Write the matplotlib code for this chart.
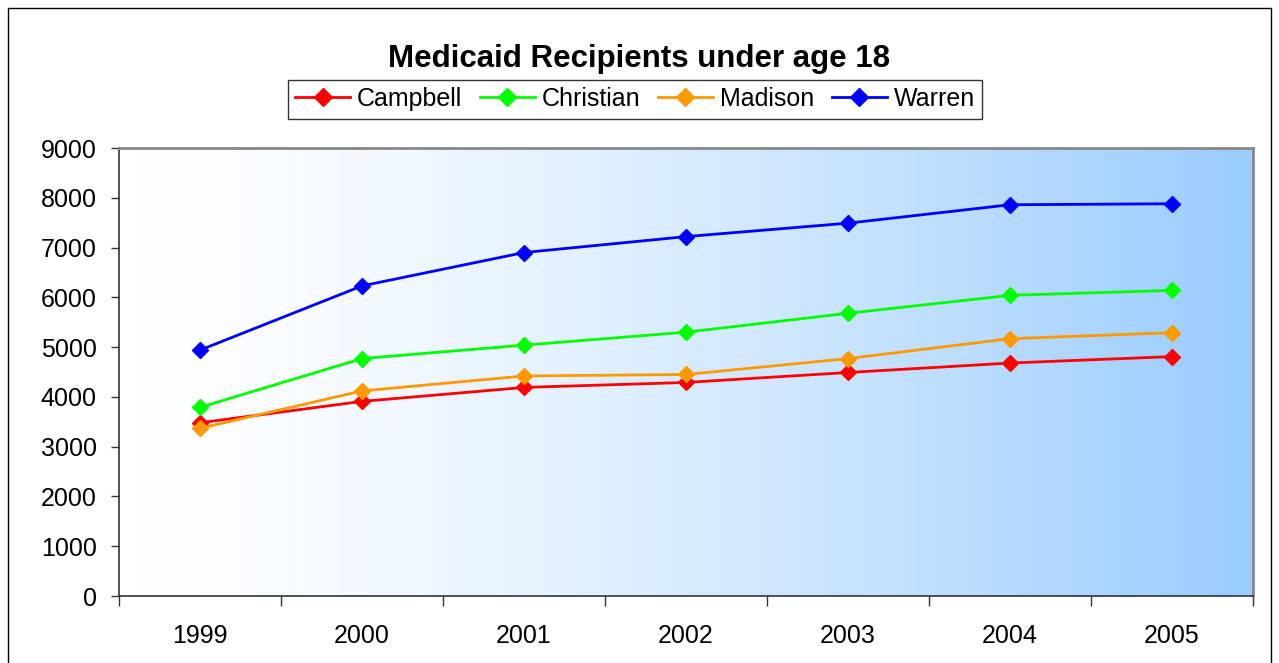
import numpy as np
import matplotlib.pyplot as plt
from matplotlib.colors import LinearSegmentedColormap
from matplotlib.patches import Rectangle

plt.rcParams['font.family'] = ['Liberation Sans', 'DejaVu Sans']

years = ['1999', '2000', '2001', '2002', '2003', '2004', '2005']
campbell = [3480, 3910, 4190, 4290, 4490, 4680, 4810]
christian = [3790, 4770, 5040, 5300, 5680, 6040, 6140]
madison = [3370, 4120, 4420, 4450, 4770, 5170, 5290]
warren = [4940, 6230, 6900, 7220, 7490, 7860, 7880]

series = [('Campbell', campbell, '#FF0000'),
          ('Christian', christian, '#00FF00'),
          ('Madison', madison, '#FF9900'),
          ('Warren', warren, '#0000FF')]

fig = plt.figure(figsize=(12.79, 6.63), dpi=100)
ax = fig.add_axes([119 / 1279, 1 - 596 / 663, (1253 - 119) / 1279, (596 - 148) / 663])

# gradient background of the plot area
cmap = LinearSegmentedColormap.from_list('bg', ['#FFFFFF', '#99CCFF'])
grad = np.linspace(0, 1, 256) ** 1.4
ax.imshow(grad[np.newaxis, :], aspect='auto', cmap=cmap, vmin=0, vmax=1,
          extent=[0, 1, 0, 1], transform=ax.transAxes, zorder=0)

x = np.arange(len(years))
for name, vals, col in series:
    ax.plot(x, vals, color=col, lw=2, marker='D', markersize=8,
            markeredgecolor=col, label=name, zorder=3)

ax.set_xlim(-0.5, len(years) - 0.5)
ax.set_ylim(0, 9000)
ax.set_yticks(range(0, 9001, 1000))
ax.set_xticks(np.arange(-0.5, len(years), 1))
ax.set_xticklabels([])
ax.set_xticks(x, minor=True)
ax.set_xticklabels(years, minor=True)
ax.tick_params(axis='x', which='major', length=7, width=1, color='#333333', direction='out')
ax.tick_params(axis='x', which='minor', length=0, pad=20, labelsize=18)
ax.tick_params(axis='y', length=6, width=1, color='#333333', direction='out', labelsize=18, pad=10)

for s in ['left', 'bottom']:
    ax.spines[s].set_color('#333333')
    ax.spines[s].set_linewidth(1.2)
for s in ['top', 'right']:
    ax.spines[s].set_color('#888888')
    ax.spines[s].set_linewidth(2)

fig.text(0.5, 1 - 67 / 663, 'Medicaid Recipients under age 18', ha='center', va='baseline',
         fontsize=22.5, fontweight='bold')

leg = fig.legend(loc='center', bbox_to_anchor=(635 / 1279, 1 - 99 / 663), ncol=4,
                 fontsize=18, frameon=True, fancybox=False, edgecolor='black',
                 handlelength=2.2, handletextpad=0.28, columnspacing=0.7,
                 borderpad=0.3, borderaxespad=0, markerscale=1.2)
leg.get_frame().set_linewidth(1)

fig.patches.append(Rectangle((8 / 1279, -0.05), (1271 - 8) / 1279, 1.05 - 8 / 663,
                             transform=fig.transFigure, fill=False, edgecolor='black',
                             lw=1))

fig.savefig('out.png', dpi=100)
